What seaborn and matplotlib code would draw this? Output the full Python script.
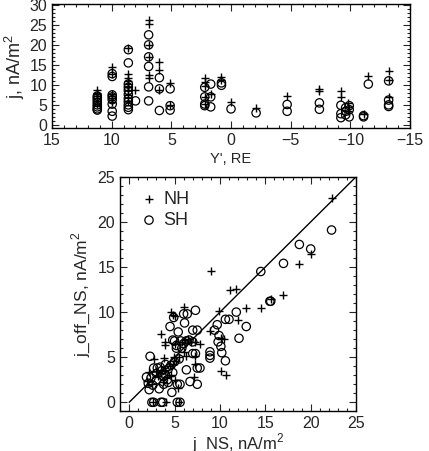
import numpy as np
import pandas as pd
import matplotlib
matplotlib.use("Agg")
import matplotlib.pyplot as plt
from matplotlib.ticker import MultipleLocator
import seaborn as sns

# ---- top panel: j versus Y' (RE), one column of points per event
nh_top_y = [11.2]*7 + [9.95]*6 + [8.6]*9 + [8.0] + [6.9]*6 + [6.0]*3 + [5.1]*2 + \
    [2.2]*5 + [1.7] + [0.8]*2 + [0.0] + [-2.1] + [-4.7] + [-7.4]*2 + [-9.2]*2 + \
    [-9.8]*3 + [-11.1] + [-11.5] + [-13.2]*3
nh_top_j = [8.6, 8.0, 7.6, 7.2, 6.6, 6.0, 5.2,
            14.4, 12.6, 7.8, 7.2, 6.6, 5.8,
            19.3, 12.6, 11.8, 11.0, 10.2, 9.5, 8.6, 7.5, 6.0,
            8.8,
            26.2, 25.1, 20.0, 17.0, 12.5, 11.6,
            15.6, 13.8, 8.8,
            10.5, 5.0,
            11.6, 10.8, 9.8, 7.0, 5.2,
            7.8,
            12.0, 11.2,
            5.6, 4.3, 7.3,
            9.0, 8.5,
            8.5, 7.0,
            5.5, 4.5, 3.5,
            2.8, 12.3,
            13.5, 11.2, 7.0]

sh_top_y = [11.2]*8 + [9.95]*8 + [8.6]*11 + [8.0] + [6.9]*6 + [6.0]*3 + [5.1]*3 + \
    [2.2]*4 + [1.7]*3 + [0.8]*2 + [0.0] + [-2.1] + [-4.7]*2 + [-7.4]*2 + \
    [-9.2]*3 + [-9.6]*3 + [-9.9]*3 + [-11.1]*2 + [-11.5] + [-13.2]*4
sh_top_j = [7.2, 6.7, 6.2, 5.6, 5.0, 4.5, 4.0, 3.7,
            12.8, 12.1, 7.5, 7.0, 6.3, 5.2, 3.4, 2.2,
            18.8, 15.5, 10.2, 9.4, 8.6, 7.6, 6.6, 5.8, 5.0, 4.4, 3.8,
            6.0,
            22.5, 20.0, 17.0, 14.6, 9.5, 6.0,
            11.8, 9.0, 3.6,
            9.0, 4.8, 3.7,
            9.4, 7.0, 5.2, 4.8,
            10.2, 7.0, 4.5,
            10.5, 9.9,
            4.0, 3.0,
            5.1, 3.4,
            5.5, 3.9,
            4.9, 2.8, 1.8,
            4.3, 3.4, 2.5,
            4.8, 3.8, 2.0,
            2.3, 2.0,
            10.2,
            11.0, 6.2, 5.0, 4.6]

# ---- bottom panel: j_off_NS versus j_NS
nh_jns = [9.0, 11.1, 11.8, 18.75, 20.0, 22.3, 15.6, 16.9, 12.9, 14.5, 12.0, 10.1, 10.7,
          9.9, 8.9, 10.1, 10.4, 7.8, 6.0, 6.2, 6.8, 7.3, 7.2, 7.3, 7.1, 6.3, 4.8, 5.0,
          3.5, 3.9, 3.9, 3.8, 2.7, 2.2, 2.0, 3.0, 3.5, 4.0, 4.5, 4.8, 5.2, 5.5, 4.6,
          4.2, 5.0, 5.4, 3.7, 3.2, 2.5, 5.8, 6.5, 5.0, 4.9, 6.0, 4.6, 2.6, 4.1, 5.5]
nh_joff = [14.6, 12.4, 12.6, 15.3, 16.4, 22.7, 11.5, 11.9, 10.5, 10.4, 9.1, 3.5, 3.0,
           10.1, 7.9, 7.1, 7.0, 6.5, 10.6, 6.9, 6.7, 6.7, 5.1, 4.3, 2.8, 5.1, 9.7, 9.6,
           7.6, 6.7, 6.4, 4.9, 4.8, 3.4, 2.4, 3.5, 3.2, 3.6, 4.0, 4.3, 4.6, 5.0, 3.0,
           2.8, 2.5, 1.6, 2.3, 2.9, 2.0, 6.7, 7.0, 6.5, 5.0, 5.6, 10.0, 0.0, 0.0, 0.0]

sh_jns = [15.5, 12.9, 12.1, 11.8, 11.0, 10.6, 10.6, 9.7, 9.4, 9.9, 9.8, 10.1, 10.2,
          8.9, 8.9, 8.9, 7.5, 7.3, 6.0, 6.4, 6.1, 7.0, 6.6, 7.0, 5.7, 7.0, 7.3, 7.5,
          7.8, 6.7, 7.5, 6.3, 4.5, 4.9, 5.4, 5.0, 5.2, 5.2, 2.3, 4.8, 2.7, 3.1, 3.4,
          1.9, 2.4, 2.1, 2.6, 14.5, 17.0, 18.75, 20.0, 22.3, 15.6, 3.0, 3.6, 4.0, 4.3,
          4.6, 5.0, 4.8, 4.2, 3.8, 3.3, 4.7, 5.3, 5.6, 4.0, 3.6, 5.5, 4.3, 3.0, 2.2,
          5.8, 6.0, 6.3, 2.5, 2.7, 3.5, 3.7, 5.3, 5.6]
sh_joff = [11.2, 8.4, 7.1, 10.0, 9.2, 9.2, 4.6, 8.6, 8.0, 7.4, 6.7, 6.2, 5.5,
           5.6, 5.2, 4.9, 8.0, 10.2, 9.8, 9.8, 8.8, 8.0, 6.9, 6.7, 6.8, 5.4, 5.4, 3.8,
           3.8, 2.3, 2.0, 3.6, 8.4, 9.4, 7.8, 6.8, 6.3, 6.0, 5.1, 6.9, 3.8, 3.8, 3.9,
           2.8, 2.7, 2.1, 1.9, 14.5, 15.4, 17.5, 17.0, 19.1, 11.2, 3.2, 3.5, 3.0, 3.7,
           4.1, 4.5, 3.3, 2.5, 2.0, 1.5, 1.1, 2.0, 2.0, 4.2, 3.0, 4.8, 2.2, 2.5, 1.4,
           6.0, 6.5, 6.8, 0.0, 0.0, 0.0, 0.0, 0.0, 0.0]

one_to_one = [0, 25]

sns.set_style("ticks")
plt.rcParams['font.family'] = ['Liberation Sans', 'DejaVu Sans']
plt.rcParams['mathtext.fontset'] = 'custom'
plt.rcParams['mathtext.rm'] = 'Liberation Sans'
plt.rcParams['axes.linewidth'] = 1.0

fig = plt.figure(figsize=(4.29, 4.51), dpi=100)
ax1 = fig.add_axes([0.121, 0.716, 0.835, 0.275])
ax2 = fig.add_axes([0.280, 0.088, 0.550, 0.520])

plus_kw = dict(marker='+', s=36, color='black', linewidth=1.0)
circ_kw = dict(marker='o', s=36, facecolor='none', edgecolor='black', linewidth=0.9)

sns.scatterplot(x=nh_top_y, y=nh_top_j, ax=ax1, **plus_kw)
sns.scatterplot(x=sh_top_y, y=sh_top_j, ax=ax1, **circ_kw)
ax1.set_xlim(15, -15)
ax1.set_ylim(-0.8, 30.2)
ax1.set_xlabel("Y', RE", fontsize=10.5, labelpad=3)
ax1.set_ylabel("j, nA/m$^\\mathregular{2}$", fontsize=13, labelpad=2)

sns.lineplot(x=one_to_one, y=one_to_one, ax=ax2, color='black', linewidth=1.0)
sns.scatterplot(x=nh_jns, y=nh_joff, ax=ax2, label='NH', **plus_kw)
sns.scatterplot(x=sh_jns, y=sh_joff, ax=ax2, label='SH', **circ_kw)
ax2.set_xlim(-1, 25)
ax2.set_ylim(-1, 25)
ax2.set_xlabel("j_NS, nA/m$^\\mathregular{2}$", fontsize=12, labelpad=0)
ax2.set_ylabel("j_off_NS, nA/m$^\\mathregular{2}$", fontsize=12.5, labelpad=4)
ax2.legend(loc='upper left', frameon=False, fontsize=13, handletextpad=0.0,
           borderaxespad=0.4, labelspacing=0.2, handlelength=1.6)

for ax in (ax1, ax2):
    ax.xaxis.set_major_locator(MultipleLocator(5))
    ax.yaxis.set_major_locator(MultipleLocator(5))
    ax.xaxis.set_minor_locator(MultipleLocator(1))
    ax.yaxis.set_minor_locator(MultipleLocator(1))
    ax.tick_params(which='both', direction='in', top=True, right=True, labelsize=11.5, width=0.8)
    ax.tick_params(which='major', length=5)
    ax.tick_params(which='minor', length=2.5)
    for sp in ax.spines.values():
        sp.set_visible(True)
        sp.set_color('black')

fig.savefig("out.png", dpi=100)
